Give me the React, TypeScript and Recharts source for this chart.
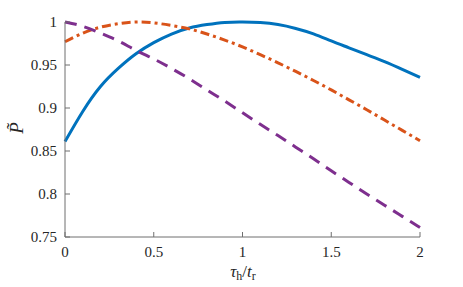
import React from "react";
import { LineChart, Line, XAxis, YAxis } from "recharts";

// tau_h / t_r sample points
const tau = [0, 0.1, 0.2, 0.3, 0.4, 0.5, 0.6, 0.7, 0.8, 0.9, 1.0, 1.1, 1.2, 1.3, 1.4, 1.5, 1.6, 1.7, 1.8, 1.9, 2.0];

const blueP = [0.861, 0.896, 0.925, 0.946, 0.963, 0.976, 0.986, 0.993, 0.997, 0.9995, 1.0, 0.9993, 0.997, 0.9925, 0.9862, 0.978, 0.970, 0.962, 0.954, 0.945, 0.9355];
const orangeP = [0.977, 0.987, 0.994, 0.998, 1.0, 0.999, 0.996, 0.992, 0.986, 0.979, 0.971, 0.962, 0.9525, 0.9425, 0.932, 0.921, 0.9095, 0.898, 0.886, 0.874, 0.862];
const purpleP = [1.0, 0.995, 0.987, 0.978, 0.967, 0.957, 0.946, 0.934, 0.921, 0.908, 0.8945, 0.881, 0.868, 0.8545, 0.841, 0.827, 0.8135, 0.8, 0.787, 0.774, 0.761];

const xTicks = [0, 0.5, 1, 1.5, 2];
const yTicks = [0.75, 0.8, 0.85, 0.9, 0.95, 1];

const data = tau.map((t, i) => ({ t, a: blueP[i], b: orangeP[i], c: purpleP[i] }));

const axisColor = "#6f6f6f";
const textColor = "#262626";
const font = "Liberation Serif";
const tickStyle = { fill: textColor, fontSize: 15, fontFamily: font };

function XLabel() {
  return (
    <text x={243} y={277} textAnchor="middle" fill={textColor} fontFamily={font} fontSize={17}>
      <tspan fontStyle="italic">τ</tspan>
      <tspan fontSize={12} dy={3}>h</tspan>
      <tspan dy={-3}>/</tspan>
      <tspan fontStyle="italic">t</tspan>
      <tspan fontSize={12} dy={3}>r</tspan>
    </text>
  );
}

function YLabel() {
  return (
    <text transform="translate(23,128) rotate(-90)" x={0} y={0} textAnchor="middle" fill={textColor} fontFamily={font} fontStyle="italic" fontSize={19}>
      {"P\u0303"}
    </text>
  );
}

export default function App() {
  return (
    <div style={{ position: "absolute", left: 0, top: 0, width: 463, height: 287, background: "#fff" }}>
      <LineChart width={463} height={287} data={data} margin={{ top: 22, right: 43, bottom: 20, left: 25 }}>
        <XAxis
          dataKey="t"
          type="number"
          domain={[0, 2]}
          ticks={xTicks}
          height={30}
          stroke={axisColor}
          tickSize={-5}
          tickMargin={14}
          tick={tickStyle}
          label={{ content: () => <XLabel /> }}
        />
        <XAxis
          xAxisId="top"
          orientation="top"
          dataKey="t"
          type="number"
          domain={[0, 2]}
          ticks={xTicks}
          height={0}
          stroke={axisColor}
          tickSize={-5}
          tick={false}
        />
        <YAxis
          type="number"
          domain={[0.75, 1]}
          ticks={yTicks}
          width={40}
          stroke={axisColor}
          tickSize={-5}
          tickMargin={13}
          tick={tickStyle}
          label={{ content: () => <YLabel /> }}
        />
        <YAxis
          yAxisId="right"
          orientation="right"
          type="number"
          domain={[0.75, 1]}
          ticks={yTicks}
          width={0}
          stroke={axisColor}
          tickSize={-5}
          tick={false}
        />
        <Line type="natural" dataKey="a" stroke="#0072BD" strokeWidth={3} dot={false} isAnimationActive={false} />
        <Line type="natural" dataKey="b" stroke="#D95319" strokeWidth={3} strokeDasharray="9 4 3 4" dot={false} isAnimationActive={false} />
        <Line type="natural" dataKey="c" stroke="#7E2F8E" strokeWidth={3} strokeDasharray="12 8" dot={false} isAnimationActive={false} />
      </LineChart>
    </div>
  );
}
